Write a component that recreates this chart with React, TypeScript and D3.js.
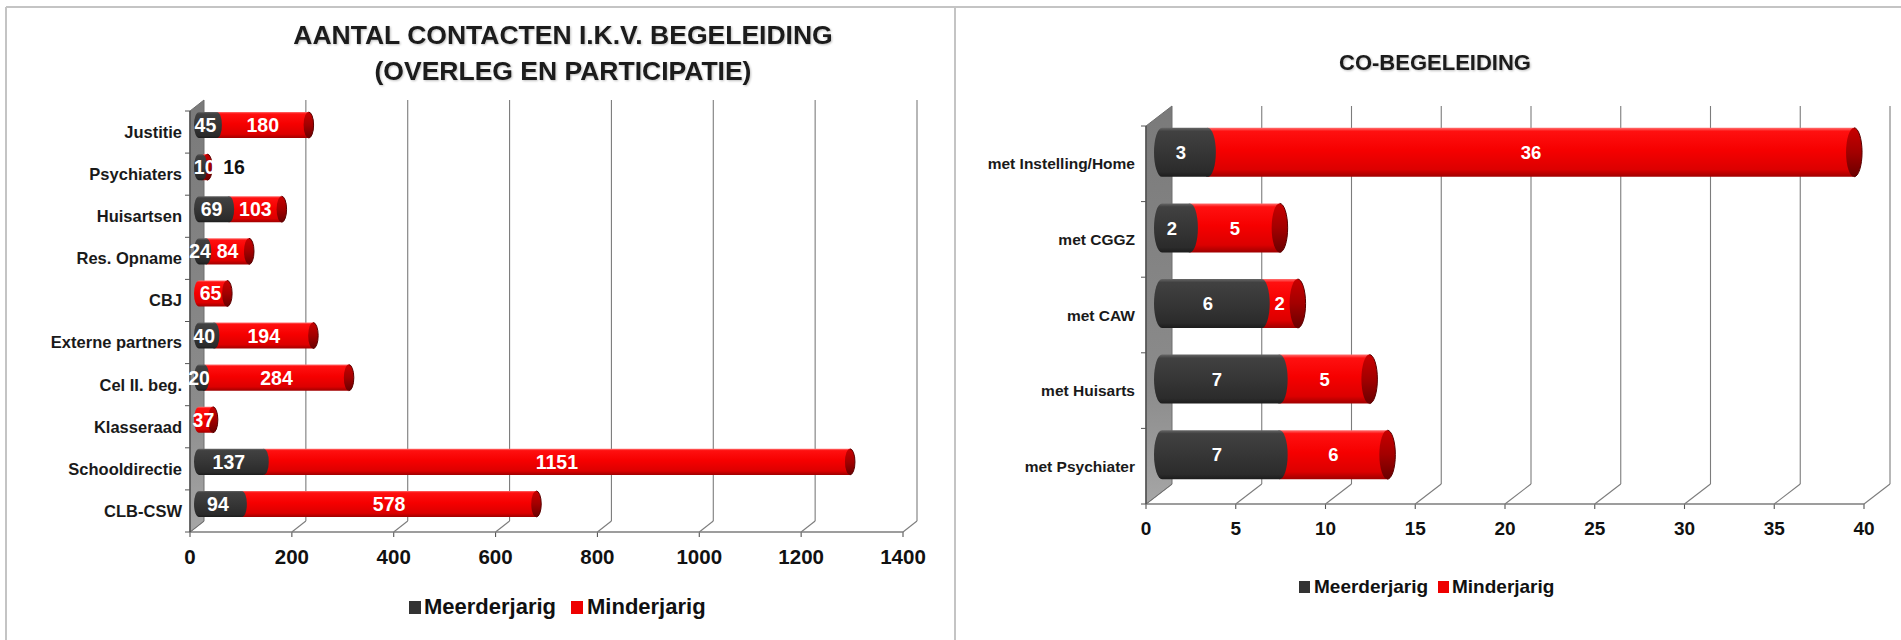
import React from 'react';
import * as d3 from 'd3';

const seriesNames = ['Meerderjarig', 'Minderjarig'];

const leftTitle = ['AANTAL CONTACTEN I.K.V. BEGELEIDING', '(OVERLEG EN PARTICIPATIE)'];
const leftCategories = ['Justitie', 'Psychiaters', 'Huisartsen', 'Res. Opname', 'CBJ', 'Externe partners', 'Cel II. beg.', 'Klasseraad', 'Schooldirectie', 'CLB-CSW'];
const leftMeerderjarig = [45, 16, 69, 24, 0, 40, 20, 0, 137, 94];
const leftMinderjarig = [180, 10, 103, 84, 65, 194, 284, 37, 1151, 578];
const leftTicks = [0, 200, 400, 600, 800, 1000, 1200, 1400];

const rightTitle = ['CO-BEGELEIDING'];
const rightCategories = ['met Instelling/Home', 'met CGGZ', 'met CAW', 'met Huisarts', 'met Psychiater'];
const rightMeerderjarig = [3, 2, 6, 7, 7];
const rightMinderjarig = [36, 5, 2, 5, 6];
const rightTicks = [0, 5, 10, 15, 20, 25, 30, 35, 40];

const FONT = '"Liberation Sans", Arial, Helvetica, sans-serif';

type Cfg = {
  x0: number; x1: number; yTop: number; yBot: number; dx: number; dy: number;
  barFrac: number; barShiftY: number; xsOff: number; rx: number;
  labelFont: number; catFont: number; catGap: number; tickFont: number; tickBaseline: number;
  titleX: number; titleBaselines: number[]; titleFont: number;
  legendBaseline: number; legendFont: number; legendSq: number;
  legendSqX: number[]; legendTextX: number[];
};

const leftCfg: Cfg = {
  x0: 190, x1: 903, yTop: 111, yBot: 532, dx: 14, dy: -11,
  barFrac: 0.62, barShiftY: -7, xsOff: 4, rx: 5,
  labelFont: 19.5, catFont: 16.5, catGap: 8, tickFont: 20.5, tickBaseline: 564,
  titleX: 563, titleBaselines: [44, 80], titleFont: 26.5,
  legendBaseline: 614, legendFont: 22, legendSq: 12,
  legendSqX: [409, 571], legendTextX: [424, 587],
};

const rightCfg: Cfg = {
  x0: 1146, x1: 1864, yTop: 126, yBot: 504, dx: 26, dy: -20,
  barFrac: 0.648, barShiftY: -11.5, xsOff: 8, rx: 8,
  labelFont: 18.5, catFont: 15.5, catGap: 11, tickFont: 19, tickBaseline: 535,
  titleX: 1435, titleBaselines: [70], titleFont: 22,
  legendBaseline: 593, legendFont: 19, legendSq: 11,
  legendSqX: [1299, 1438], legendTextX: [1314, 1452],
};

function Defs({ id }: { id: string }) {
  return (
    <defs>
      <linearGradient id={`${id}-red`} x1="0" y1="0" x2="0" y2="1">
        <stop offset="0" stopColor="#ff7070" />
        <stop offset="0.07" stopColor="#ff1010" />
        <stop offset="0.45" stopColor="#f60000" />
        <stop offset="0.85" stopColor="#dc0000" />
        <stop offset="1" stopColor="#a00000" />
      </linearGradient>
      <linearGradient id={`${id}-dark`} x1="0" y1="0" x2="0" y2="1">
        <stop offset="0" stopColor="#666" />
        <stop offset="0.07" stopColor="#414141" />
        <stop offset="0.5" stopColor="#363636" />
        <stop offset="0.9" stopColor="#2b2b2b" />
        <stop offset="1" stopColor="#1c1c1c" />
      </linearGradient>
      <linearGradient id={`${id}-redcap`} x1="0" y1="0" x2="0" y2="1">
        <stop offset="0" stopColor="#c80000" />
        <stop offset="0.5" stopColor="#a30000" />
        <stop offset="1" stopColor="#6a0000" />
      </linearGradient>
      <linearGradient id={`${id}-wall`} x1="0" y1="0" x2="0" y2="1">
        <stop offset="0" stopColor="#7a7a7a" />
        <stop offset="0.7" stopColor="#8b8b8b" />
        <stop offset="1" stopColor="#a6a6a6" />
      </linearGradient>
      <filter id={`${id}-shadow`} x="-5%" y="-20%" width="110%" height="140%">
        <feGaussianBlur in="SourceAlpha" stdDeviation="1.2" />
        <feOffset dx="1" dy="1" result="b" />
        <feComponentTransfer><feFuncA type="linear" slope="0.25" /></feComponentTransfer>
        <feMerge><feMergeNode /><feMergeNode in="SourceGraphic" /></feMerge>
      </filter>
    </defs>
  );
}

function Chart({ id, title, cats, meer, mind, ticks, cfg }: {
  id: string; title: string[]; cats: string[]; meer: number[]; mind: number[]; ticks: number[]; cfg: Cfg;
}) {
  const x = d3.scaleLinear().domain([ticks[0], ticks[ticks.length - 1]]).range([cfg.x0, cfg.x1]);
  const y = d3.scaleBand<string>().domain(cats).range([cfg.yTop, cfg.yBot]).paddingInner(0).paddingOuter(0);
  const rows = cats.map((c, i) => ({ cat: c, Meerderjarig: meer[i], Minderjarig: mind[i] }));
  const stacked = d3.stack<any>().keys(seriesNames)(rows);
  const bw = y.bandwidth();
  const barH = bw * cfg.barFrac;
  const xs = cfg.x0 + cfg.xsOff;
  const px = (v: number) => xs + (x(v) - x(0));
  const { dx, dy } = cfg;

  const bandEdges = cats.map((c) => y(c) as number).concat([cfg.yBot]);

  return (
    <g fontFamily={FONT}>
      <Defs id={id} />
      {title.map((t, i) => (
        <text key={i} x={cfg.titleX} y={cfg.titleBaselines[i]} textAnchor="middle" fontWeight="bold"
          fontSize={cfg.titleFont} fill="#1a1a1a" filter={`url(#${id}-shadow)`}>{t}</text>
      ))}
      {/* back gridlines and floor slants */}
      {ticks.map((t) => (
        <g key={t} stroke="#7c7c7c" strokeWidth={1.1} fill="none">
          {t !== ticks[0] && (
            <line x1={x(t) + dx} y1={cfg.yBot + dy} x2={x(t) + dx} y2={cfg.yTop + dy} />
          )}
          <line x1={x(t)} y1={cfg.yBot} x2={x(t) + dx} y2={cfg.yBot + dy} />
          <line x1={x(t)} y1={cfg.yBot} x2={x(t)} y2={cfg.yBot + 5} stroke="#555" />
        </g>
      ))}
      {/* floor front line */}
      <line x1={x(ticks[0])} y1={cfg.yBot} x2={x(ticks[ticks.length - 1])} y2={cfg.yBot} stroke="#7c7c7c" strokeWidth={1.3} />
      {/* wall */}
      <polygon
        points={`${cfg.x0},${cfg.yTop} ${cfg.x0 + dx},${cfg.yTop + dy} ${cfg.x0 + dx},${cfg.yBot + dy} ${cfg.x0},${cfg.yBot}`}
        fill={`url(#${id}-wall)`} stroke="#6e6e6e" strokeWidth={1} />
      <line x1={cfg.x0} y1={cfg.yTop} x2={cfg.x0} y2={cfg.yBot} stroke="#505050" strokeWidth={1.5} />
      {/* category ticks */}
      {bandEdges.map((e, i) => (
        <line key={i} x1={cfg.x0 - 5} y1={e} x2={cfg.x0} y2={e} stroke="#555" strokeWidth={1} />
      ))}
      {/* category labels */}
      {cats.map((c) => (
        <text key={c} x={cfg.x0 - cfg.catGap} y={(y(c) as number) + bw / 2} dy="0.36em" textAnchor="end"
          fontWeight="bold" fontSize={cfg.catFont} fill="#1a1a1a">{c}</text>
      ))}
      {/* tick labels */}
      {ticks.map((t) => (
        <text key={t} x={x(t)} y={cfg.tickBaseline} textAnchor="middle" fontWeight="bold"
          fontSize={cfg.tickFont} fill="#111">{t}</text>
      ))}
      {/* bars */}
      {cats.map((c, i) => {
        const cy = (y(c) as number) + bw / 2 + cfg.barShiftY;
        const top = cy - barH / 2;
        const bot = cy + barH / 2;
        const segs = stacked.map((s, k) => ({ key: s.key, k, v0: s[i][0], v1: s[i][1] })).filter((s) => s.v1 > s.v0);
        const firstK = segs.length ? segs[0].k : -1;
        const lastK = segs.length ? segs[segs.length - 1].k : -1;
        const order = segs.slice().reverse();
        const total = segs.length ? segs[segs.length - 1].v1 : 0;
        return (
          <g key={c}>
            {order.map((s) => {
              const xa = px(s.v0);
              const xb = px(s.v1);
              const fill = s.k === 0 ? `url(#${id}-dark)` : `url(#${id}-red)`;
              const isFirst = s.k === firstK;
              const r = Math.min(cfg.rx, (xb - xa));
              const d = isFirst
                ? `M${xa + r},${top} L${xb},${top} L${xb},${bot} L${xa + r},${bot} A${r},${barH / 2} 0 0 1 ${xa + r},${top} Z`
                : `M${xa},${top} L${xb},${top} L${xb},${bot} L${xa},${bot} Z`;
              const capFill = s.k === lastK && s.k === 1 ? `url(#${id}-redcap)` : fill;
              return (
                <g key={s.key}>
                  <path d={d} fill={fill} />
                  <ellipse cx={xb} cy={cy} rx={cfg.rx} ry={barH / 2} fill={capFill} />
                  {s.k === lastK && s.k === 1 && (
                    <path d={`M${xb},${top} A${cfg.rx},${barH / 2} 0 0 1 ${xb},${bot}`} fill="none" stroke="#5a0000" strokeWidth={1} />
                  )}
                </g>
              );
            })}
            {segs.map((s) => {
              const xa = px(s.v0);
              const xb = px(s.v1);
              const val = s.v1 - s.v0;
              const outside = s.k === 0 && xb - xa < 10;
              if (outside) {
                return (
                  <text key={s.key} x={px(total) + cfg.rx + 11} y={cy} dy="0.36em" textAnchor="start"
                    fontWeight="bold" fontSize={cfg.labelFont} fill="#111">{val}</text>
                );
              }
              return (
                <text key={s.key} x={(xa + xb) / 2} y={cy} dy="0.36em" textAnchor="middle"
                  fontWeight="bold" fontSize={cfg.labelFont} fill="#fff">{val}</text>
              );
            })}
          </g>
        );
      })}
      {/* legend */}
      {seriesNames.map((n, k) => (
        <g key={n}>
          <rect x={cfg.legendSqX[k]} y={cfg.legendBaseline - cfg.legendSq - 1} width={cfg.legendSq} height={cfg.legendSq + 1}
            fill={k === 0 ? '#333' : '#ee0000'} />
          <text x={cfg.legendTextX[k]} y={cfg.legendBaseline} fontWeight="bold" fontSize={cfg.legendFont} fill="#111">{n}</text>
        </g>
      ))}
    </g>
  );
}

export default function App() {
  return (
    <svg width={1901} height={640} style={{ position: 'absolute', left: 0, top: 0, background: '#fff' }}>
      <rect x={0} y={0} width={1901} height={640} fill="#fff" />
      <line x1={6} y1={7} x2={1901} y2={7} stroke="#c4c4c4" strokeWidth={2} />
      <line x1={6} y1={7} x2={6} y2={640} stroke="#c4c4c4" strokeWidth={2} />
      <line x1={955} y1={7} x2={955} y2={640} stroke="#c4c4c4" strokeWidth={2} />
      <Chart id="l" title={leftTitle} cats={leftCategories} meer={leftMeerderjarig} mind={leftMinderjarig} ticks={leftTicks} cfg={leftCfg} />
      <Chart id="r" title={rightTitle} cats={rightCategories} meer={rightMeerderjarig} mind={rightMinderjarig} ticks={rightTicks} cfg={rightCfg} />
    </svg>
  );
}
